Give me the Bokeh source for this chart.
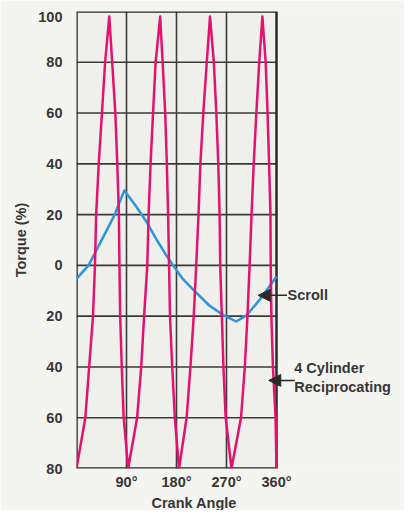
from bokeh.plotting import figure
from bokeh.models import Range1d, FixedTicker, Label, Arrow, NormalHead, Title
from bokeh.embed import file_html
from bokeh.resources import INLINE

# ---- data ----
pink_angle = [0, 15.9, 22.8, 29.7, 33.2, 35.4, 40, 45.8, 51.5, 59,
              64.2, 69.9, 73.4, 76.3, 77.3, 78.6, 81.5, 84.9, 93,
              109.1, 116.5, 121.7, 127.4, 129.8, 133.3, 137.8, 142.4, 150.6,
              155, 159.7, 162.6, 164.9, 166.6, 168.3, 172.3, 177, 184.5,
              198.2, 205.1, 211, 215.5, 219.6, 223, 228.2, 234.5, 240.3,
              247.2, 251.7, 255.2, 257.6, 258.7, 261.6, 264.5, 268.5, 279,
              296.1, 303, 307.7, 311.6, 315.1, 319, 323.7, 328.9, 334.6,
              340.5, 343.9, 346.7, 349.1, 349.6, 350.8, 353.6, 358.3, 360]
pink_torque = [-80, -60, -40, -20, 0, 20, 40, 60, 80, 98,
               80, 60, 40, 20, 0, -20, -40, -60, -80,
               -60, -40, -20, 0, 20, 40, 60, 80, 98,
               80, 60, 40, 20, 0, -20, -40, -60, -80,
               -60, -40, -20, 0, 20, 40, 60, 80, 98,
               80, 60, 40, 20, 0, -20, -40, -60, -80,
               -60, -40, -20, 0, 20, 40, 60, 80, 98,
               80, 60, 40, 20, 0, -20, -40, -60, -80]

blue_angle = [0, 21.6, 41.8, 67.7, 86, 105, 125, 146, 160, 174, 190, 210, 239, 264.5, 287.5, 306.5, 330.6, 360]
blue_torque = [-5.3, 0, 8.5, 19.5, 29.5, 24, 17.5, 9.5, 4.5, 0, -5, -9.5, -15.8, -19.6, -22.1, -19.6, -13.3, -4.4]

x_ticks = [90, 180, 270, 360]
x_tick_labels = ["90°", "180°", "270°", "360°"]
y_ticks = [-80, -60, -40, -20, 0, 20, 40, 60, 80, 100]
y_tick_labels = ["80", "60", "40", "20", "0", "20", "40", "60", "80", "100"]

FONT = "Liberation Sans"
FS = "14.5px"
TXT = "#363636"
GRID = "#3a3a3a"
INK = "#2a2a2a"

W, H = 404, 510
LEFT, TOP, BOTTOM = 76, 11, 39
CHART_W = 200                      # pixels used by 0..360 degrees
X0, X1 = 0, 360
Y0, Y1 = y_ticks[0], y_ticks[-1]
x_end = X1 * (W - LEFT) / CHART_W  # frame extends to the right for the side notes

p = figure(width=W, height=H, output_backend="svg", toolbar_location=None,
           x_range=Range1d(0, x_end), y_range=Range1d(Y0, Y1),
           min_border_left=LEFT, min_border_right=0, min_border_top=TOP, min_border_bottom=BOTTOM,
           background_fill_color="#f4f4f1", border_fill_color="#f4f4f1")
p.outline_line_color = None
p.xgrid.visible = False
p.ygrid.visible = False

# tick labels; the top label sits slightly below the frame edge as in the reference
y_label_pos = y_ticks[:-1] + [98]
p.xaxis.ticker = FixedTicker(ticks=x_ticks)
p.xaxis.major_label_overrides = {t: l for t, l in zip(x_ticks, x_tick_labels)}
p.yaxis.ticker = FixedTicker(ticks=y_label_pos)
p.yaxis.major_label_overrides = {t: l for t, l in zip(y_label_pos, y_tick_labels)}

for ax in (p.xaxis, p.yaxis):
    ax.axis_line_color = None
    ax.major_tick_in = 0
    ax.major_tick_out = 0
    ax.minor_tick_in = 0
    ax.minor_tick_out = 0
    ax.major_label_text_font = FONT
    ax.major_label_text_font_style = "bold"
    ax.major_label_text_font_size = FS
    ax.major_label_text_color = TXT

p.xaxis.major_label_standoff = 5
p.yaxis.major_label_standoff = 14
p.yaxis.axis_label = "Torque (%)"
p.yaxis.axis_label_text_font = FONT
p.yaxis.axis_label_text_font_style = "bold"
p.yaxis.axis_label_text_font_size = FS
p.yaxis.axis_label_text_color = TXT
p.yaxis.axis_label_standoff = 6

# x axis title, offset to the right as in the reference
p.add_layout(Title(text="Crank Angle", align="left", offset=75, standoff=0,
                   text_font=FONT, text_font_style="bold", text_font_size=FS, text_color=TXT), "below")

# chart box and grid
p.quad(left=X0, right=X1, bottom=Y0, top=Y1, fill_color="#efefeb", line_color=None)
p.segment(x0=[X0] * (len(y_ticks) - 2), x1=[X1] * (len(y_ticks) - 2),
          y0=y_ticks[1:-1], y1=y_ticks[1:-1], line_color=GRID, line_width=1.6)
p.segment(x0=x_ticks[:-1], x1=x_ticks[:-1], y0=[Y0] * 3, y1=[Y1] * 3,
          line_color=GRID, line_width=1.6)
p.quad(left=X0, right=X1, bottom=Y0, top=Y1, fill_color=None, line_color=INK, line_width=2.5)

p.line(blue_angle, blue_torque, line_color="#2f95da", line_width=2.5, line_join="round")
p.line(pink_angle, pink_torque, line_color="#e3126f", line_width=2.5, line_join="round")

# annotations
head_kw = dict(fill_color=INK, line_color=INK, size=12)
p.add_layout(Arrow(end=NormalHead(**head_kw), x_start=379, y_start=-11.8, x_end=327, y_end=-11.8,
                   line_color=INK, line_width=1.5))
p.add_layout(Label(x=380, y=-11.8, text="Scroll", text_align="left", text_baseline="middle",
                   text_font=FONT, text_font_style="bold", text_font_size=FS, text_color=TXT))
p.add_layout(Arrow(end=NormalHead(**head_kw), x_start=393, y_start=-45.3, x_end=346, y_end=-45.3,
                   line_color=INK, line_width=1.5))
p.add_layout(Label(x=392, y=-40.5, text="4 Cylinder", text_align="left", text_baseline="middle",
                   text_font=FONT, text_font_style="bold", text_font_size=FS, text_color=TXT))
p.add_layout(Label(x=392, y=-47.8, text="Reciprocating", text_align="left", text_baseline="middle",
                   text_font=FONT, text_font_style="bold", text_font_size=FS, text_color=TXT))

open("out.html", "w").write(file_html(p, INLINE))
